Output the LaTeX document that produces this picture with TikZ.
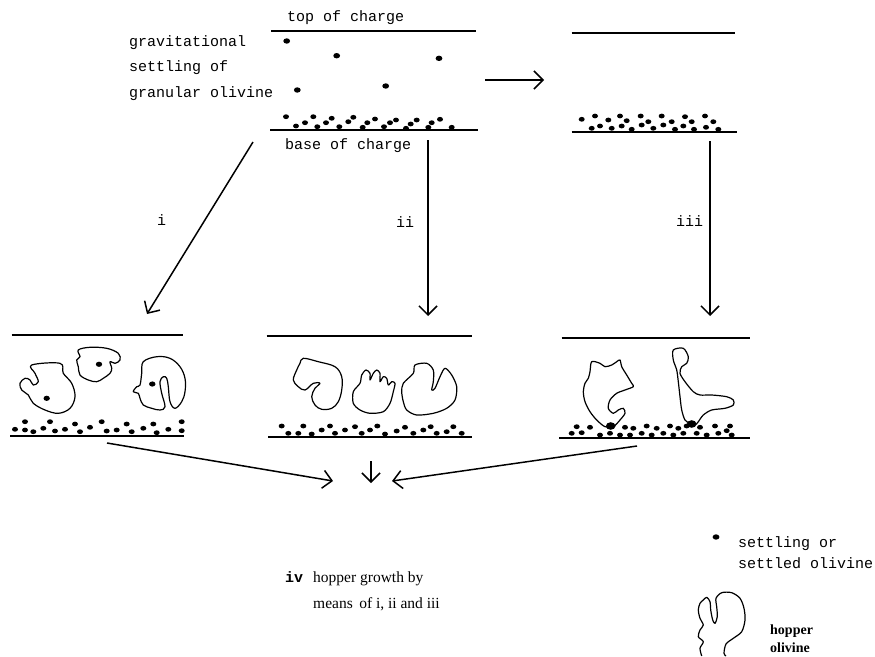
\documentclass[tikz,border=0pt]{standalone}
\usepackage{fontspec}
\setmainfont{Liberation Serif}
\setmonofont{Liberation Mono}
\usetikzlibrary{arrows.meta}

\begin{document}
\begin{tikzpicture}[x=1pt,y=-1pt,
  chargeline/.style={line width=2pt},
  flow/.style={line width=1.5pt,-{Straight Barb[length=9pt,width=18pt,line width=1.5pt]}},
  typed/.style={font=\fontsize{15}{15}\selectfont\ttfamily, inner sep=0pt, anchor=base west},
  printed/.style={font=\fontsize{15.5}{15.5}\selectfont, inner sep=0pt, anchor=base west},
  crystal/.style={line width=1.2pt, line join=round}]
\useasboundingbox (0,0) rectangle (875,656);

% ---------- settling stage: top of charge / base of charge ----------
\draw[chargeline] (271,31) -- (476,31);
\draw[chargeline] (270,130) -- (478,130);
\node[typed] (top) at (287,21) {top of charge};
\node[typed] (base) at (285,149) {base of charge};
\node[typed] (g1) at (129,46) {gravitational};
\node[typed] (g2) at (129,71.5) {settling of};
\node[typed] (g3) at (129,97) {granular olivine};
% falling grains
\foreach \x/\y in {286.7/41,336.7/55.7,439/58.3,297.3/90,385.7/86}
  \fill (\x,\y) ellipse [x radius=3.4pt, y radius=2.7pt];
% settled grains
\foreach \x/\y in {286/116.7,296/126,305/122.7,313.3/116.7,317.3/126.7,326/122.7,
  331.7/118.3,339.3/126.7,348.3/121.7,353.3/117.3,362.7/127.3,367.3/122.7,375/119,
  384/126.7,390/122.7,396/120,406/128.3,410.7/124,416.7/120,428.3/127.3,431.7/122.7,
  440/119.3,451.7/127.3}
  \fill (\x,\y) ellipse [x radius=3pt, y radius=2.4pt];

% ---------- settled stage ----------
\draw[chargeline] (571.7,32.7) -- (735,32.7);
\draw[chargeline] (571.7,132.3) -- (736.7,132.3);
\foreach \x/\y in {581.7/119.3,595/116,591.7/128.3,600/126,608.3/120,611.7/128.3,
  620/116,621.7/126,626.7/120.7,631.7/129.3,640.7/116,641.7/125,648.3/121.7,
  653.3/128.3,661.7/116,663.3/125,671.7/121.7,675/129.3,683.3/126,685/116.7,
  691.7/121.7,694/129.3,705/116,706/127.3,713.3/121.7,718.3/129.3}
  \fill (\x,\y) ellipse [x radius=3pt, y radius=2.4pt];

% ---------- arrows between stages ----------
\coordinate (h0) at (485,80);
\coordinate (h1) at (544,80);
\draw[flow] (h0) -- (h1);
\coordinate (a1) at (253,142);
\coordinate (b1) at (147,314);
\draw[flow] (a1) -- (b1);
\coordinate (a2) at (428,140);
\coordinate (b2) at (428,316);
\draw[flow] (a2) -- (b2);
\coordinate (a3) at (710,141);
\coordinate (b3) at (710,316);
\draw[flow] (a3) -- (b3);
\node[typed] (li) at (157,225) {i};
\node[typed] (lii) at (396,227) {ii};
\node[typed] (liii) at (676,226) {iii};

% ---------- panel i ----------
\draw[chargeline] (11.7,335) -- (182.7,335);
\draw[chargeline] (10,436) -- (184,436);
\draw[crystal] plot[smooth cycle, tension=0.6] coordinates {
  (31.7,365) (60,363.3) (63.3,373.3) (71.7,383.3) (75,396.7) (70,408.3) (58.3,413.3)
  (45,410) (33.3,403.3) (28.3,395) (21.7,390) (20,383.3) (25,378.3) (30,380)
  (33.3,385) (38.3,381.7) (35,373.3)};
\draw[crystal] plot[smooth cycle, tension=0.6] coordinates {
  (78.3,350) (90,347.3) (106.7,348.3) (118.3,353.3) (120,360) (115,363.3) (110,361.7)
  (111.7,368.3) (110,373.3) (103.3,378.3) (96.7,381.7) (88.3,380) (80,375) (78.3,366.7)
  (76.7,360) (80,356.7)};
\draw[crystal] plot[smooth cycle, tension=0.6] coordinates {
  (143.3,361.7) (156.7,356.7) (170,358.3) (180,366.7) (185,378.3) (185,391.7)
  (181.7,401.7) (175,408.3) (170,401.7) (168.3,386.7) (166.7,378.3) (163.3,376.7)
  (160,381.7) (161.7,393.3) (165,406.7) (160,410) (151.7,408.3) (143.3,405)
  (140,398.3) (138.3,393.3) (133.3,391.7) (136.7,386.7) (140,385) (141.7,373.3)};
\foreach \x/\y in {46.7/398.3,99/364.3,152.3/384}
  \fill (\x,\y) ellipse [x radius=3.2pt, y radius=2.6pt];
\foreach \x/\y in {25/421.7,15/429.3,25/430,33.3/431.7,43.3/428.3,50/421.7,55/431,
  65/429.3,75/424,80/431.7,90/427.3,101.7/421.7,106.7/431,116.7/430,126.7/424,
  131.7/431.7,143.3/428.3,153.3/424,156.7/432.7,168.3/429.3,181.7/421.7,181.7/430.7}
  \fill (\x,\y) ellipse [x radius=3pt, y radius=2.4pt];

% ---------- panel ii ----------
\draw[chargeline] (266.7,336) -- (471.7,336);
\draw[chargeline] (268,437) -- (472,437);
\draw[crystal] plot[smooth cycle, tension=0.6] coordinates {
  (303.3,358.3) (318.3,361.7) (335,366.7) (341.7,376.7) (341.7,390) (338.3,401.7)
  (331.7,408.3) (321.7,409.3) (315,405) (311.7,396.7) (315,388.3) (320,383.3)
  (313.3,383.3) (305,390) (298.3,386.7) (293.3,380) (296.7,370) (300,363.3)};
\draw[crystal] plot[smooth cycle, tension=0.5] coordinates {
  (353.3,391.7) (360,383.3) (361.7,375) (366,370) (370,373.3) (370,380) (373.3,373.3)
  (376.7,370) (380,373.3) (380,381.7) (383.3,376.7) (386.7,378.3) (388.3,385)
  (391.7,381.7) (395,383.3) (393.3,391.7) (390,403.3) (383.3,411.7) (370,413.3)
  (360,410) (353.3,403.3)};
\draw[crystal] plot[smooth cycle, tension=0.5] coordinates {
  (403.3,383.3) (413.3,373.3) (415,365) (426.7,363.3) (433.3,370) (433.3,381.7)
  (431.7,390) (435,388.3) (440,376.7) (445,368.3) (451.7,375) (456.7,386.7) (455,400)
  (446.7,408.3) (433.3,413.3) (416.7,415) (406.7,410) (403.3,401.7) (401.7,391.7)};
\foreach \x/\y in {281.7/426,288.3/433.3,298.3/433.3,303.3/426,311.7/434,321.7/430,
  330/426,335/433.3,345/430,355/426.7,361.7/433.3,370/430,377.3/426,385/434,
  396.7/431,405/427.3,413.3/433.3,423.3/430,430.7/426.7,436.7/433.3,446.7/431.7,
  453.3/426.7,461.7/433.3}
  \fill (\x,\y) ellipse [x radius=3pt, y radius=2.4pt];

% ---------- panel iii ----------
\draw[chargeline] (561.7,338.3) -- (750,338.3);
\draw[chargeline] (559,438.3) -- (750,438.3);
\draw[crystal] plot[smooth cycle, tension=0.5] coordinates {
  (591.7,361.7) (600,363.3) (605,366.7) (611.7,365) (616.7,361.7) (620,360)
  (621.7,366.7) (626.7,375) (631.7,383.3) (633.3,386.7) (625,390) (616.7,393.3)
  (610,400) (608.3,408.3) (613.3,413.3) (618.3,410) (623.3,408.3) (625,413.3)
  (620,420) (613.3,426.7) (605,426.7) (596.7,420) (590,411.7) (585,401.7)
  (583.3,391.7) (585,383.3) (588.3,378.3) (590,371.7)};
\draw[crystal] plot[smooth cycle, tension=0.5] coordinates {
  (673.3,350) (683.3,348.3) (688.3,356.7) (686.7,363.3) (681.7,366.7) (680,373.3)
  (685,381.7) (693.3,391.7) (700,395) (711.7,395) (726.7,396.7) (733.3,400)
  (733.3,405) (725,408.3) (711.7,410) (703.3,415) (698.3,421.7) (695,425) (690,423.3)
  (685,420) (681.7,410) (680,396.7) (678.3,381.7) (676.7,370) (673.3,360)};
\foreach \x/\y in {576.7/426.7,590/427.3,571.7/433.3,581.7/432.7,600/435,610/433.3,
  620/435,625/427.3,633.3/428.3,630/435,641.7/433.3,646.7/426,651.7/435,656.7/428.3,
  663.3/433.3,670/426,673.3/435,678.3/428.3,683.3/433.3,686.7/426,696.7/433.3,
  700/427.3,706.7/435,715/426,718.3/433.3,730/426,731.7/435,726.7/430.7}
  \fill (\x,\y) ellipse [x radius=3pt, y radius=2.4pt];
\foreach \x/\y in {610.7/426,691.7/424}
  \fill (\x,\y) ellipse [x radius=4.8pt, y radius=3.8pt];

% ---------- convergence to iv ----------
\coordinate (c1) at (107,443);
\coordinate (d1) at (333,481);
\draw[flow] (c1) -- (d1);
\coordinate (c2) at (371,461);
\coordinate (d2) at (371,483);
\draw[flow] (c2) -- (d2);
\coordinate (c3) at (637,446);
\coordinate (d3) at (392,481);
\draw[flow] (c3) -- (d3);
\node[typed, font=\fontsize{15}{15}\selectfont\ttfamily\bfseries] (iv) at (285,582) {iv};
\node[printed] (iv1) at (313,582) {hopper growth by};
\node[printed] (iv2) at (313,608) {means\, of i, ii and iii};

% ---------- key ----------
\fill (716,537) ellipse [x radius=3.4pt, y radius=2.7pt];
\node[typed] (k1) at (738,547) {settling or};
\node[typed] (k2) at (738,568) {settled olivine};
\draw[crystal] plot[smooth, tension=0.5] coordinates {
  (726,656) (724,653.3) (726,644) (733.3,638.3) (741.7,631.7) (745,620) (744,608.3)
  (740,598.3) (731.7,592.7) (721.7,592.7) (716,598.3) (716.7,606.7) (717.3,616.7)
  (715,623.3) (712.7,620) (710.7,610) (710,601.7) (706.7,597.3) (703.3,600) (700,603.3)
  (698.3,610) (700,618.3) (703.3,625) (700,630) (698.3,636.7) (703.3,641.7)
  (700,648.3) (701.7,656)};
\node[printed, font=\fontsize{14}{14}\selectfont\bfseries] (k3) at (770,634) {hopper};
\node[printed, font=\fontsize{14}{14}\selectfont\bfseries] (k4) at (770,652) {olivine};
\end{tikzpicture}
\end{document}
